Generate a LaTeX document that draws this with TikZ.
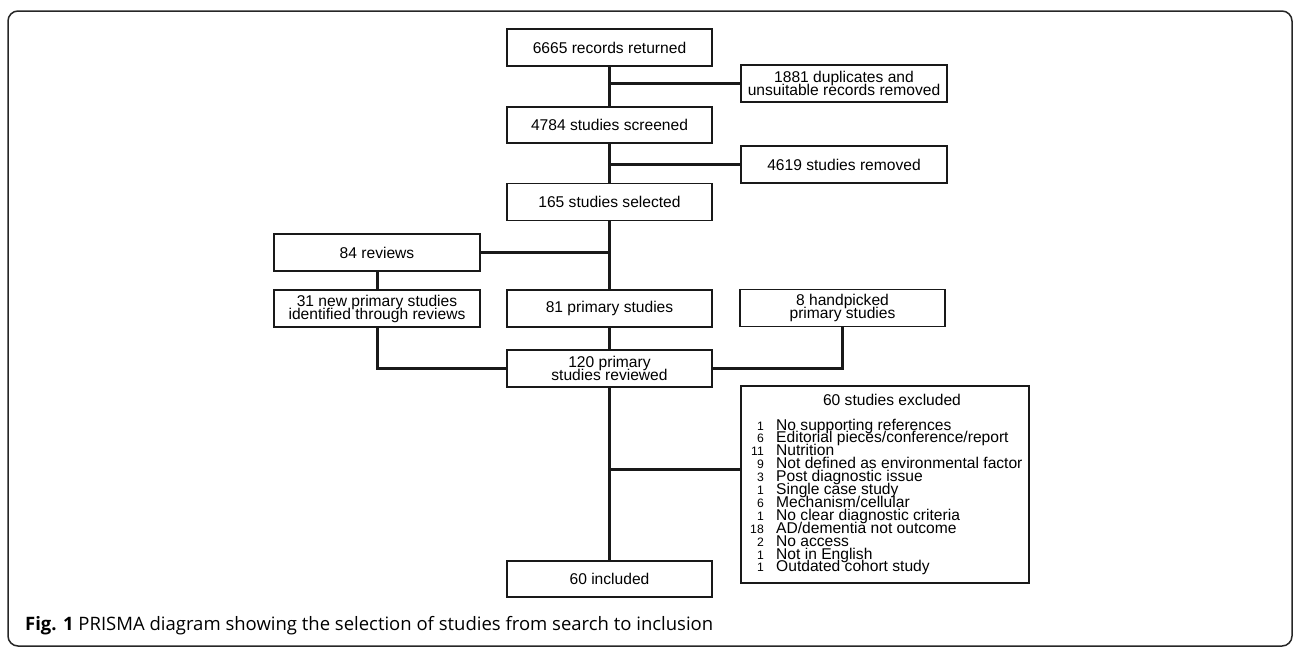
\documentclass[tikz,border=0pt]{standalone}
\usepackage{fontspec}
\setmainfont{Liberation Sans}
\newfontfamily\capfont{Open Sans}
\newcommand\boxfont{\fontsize{15.6}{13}\selectfont\lineskiplimit=-50pt\relax}
\newcommand\numfont{\fontsize{12.2}{13}\selectfont}
\newcommand\captionfont{\capfont\fontsize{18.5}{22}\selectfont}
\begin{document}
\begin{tikzpicture}[x=1pt,y=-1pt,
  box/.style={draw=black!90, line width=1.8pt, minimum width=205pt, minimum height=37pt,
              inner sep=0pt, align=center, font=\boxfont},
  conn/.style={draw=black!90, line width=3pt},
  lbl/.style={inner sep=0pt, font=\boxfont},
  numlbl/.style={inner sep=0pt, font=\numfont, anchor=base east},
  itemlbl/.style={inner sep=0pt, font=\boxfont, anchor=base west},
  frame/.style={draw=black!85, line width=1.5pt, rounded corners=10pt}]
\useasboundingbox (0,0) rectangle (1296,649);
\draw[frame] (8,11) rectangle (1292,646);

% boxes
\node[box] (b1) at (609.5,47.5) {6665 records returned};
\node[box, minimum width=206pt] (b2) at (844,83.5) {1881 duplicates and\\unsuitable records removed};
\node[box, minimum height=36pt] (b3) at (609.5,125) {4784 studies screened};
\node[box, minimum width=206pt] (b4) at (844,164.5) {4619 studies removed};
\node[box] (b5) at (609.5,202) {165 studies selected};
\node[box, minimum width=206pt] (b6) at (377,252.5) {84 reviews};
\node[box, minimum width=206pt] (b7) at (377,308.5) {31 new primary studies\\identified through reviews};
\node[box] (b8) at (609.5,308.5) {81 primary studies};
\node[box] (b9) at (842.5,308) {8 handpicked\\primary studies};
\node[box] (b10) at (609.5,368.5) {120 primary\\studies reviewed};
\node[box, minimum width=288pt, minimum height=197pt] (exc) at (885,484.5) {};
\node[box, minimum height=36pt] (b12) at (609.5,579) {60 included};

% excluded box contents
\node[lbl] (exct) at (892,400) {60 studies excluded};
\foreach \n/\t [count=\i from 0] in {1/{No supporting references},
  6/{Editorial pieces/conference/report}, 11/{Nutrition},
  9/{Not defined as environmental factor}, 3/{Post diagnostic issue},
  1/{Single case study}, 6/{Mechanism/cellular}, 1/{No clear diagnostic criteria},
  18/{AD/dementia not outcome}, 2/{No access}, 1/{Not in English},
  1/{Outdated cohort study}}{
  \node[numlbl] (exn\i) at (764,430+12.9*\i) {\n};
  \node[itemlbl] (ext\i) at (776,430+12.9*\i) {\t};
}

% connectors
\draw[conn] (b1.south) -- (b3.north);
\draw[conn] (b1.south |- b2.west) -- (b2.west);
\draw[conn] (b3.south) -- (b5.north);
\draw[conn] (b3.south |- b4.west) -- (b4.west);
\draw[conn] (b5.south) -- (b8.north);
\draw[conn] (b6.east) -- (b6.east -| b5.south);
\draw[conn] (b6.south) -- (b7.north);
\draw[conn] (b7.south) |- (b10.west);
\draw[conn] (b9.south) |- (b10.east);
\draw[conn] (b8.south) -- (b10.north);
\draw[conn] (b10.south) -- (b12.north);
\coordinate (br) at (609.5,469);
\draw[conn] (br) -- (br -| exc.west);

% caption
\node[anchor=base west, inner sep=0pt, font=\captionfont] (cap) at (25,630)
  {\textbf{Fig. 1} PRISMA diagram showing the selection of studies from search to inclusion};
\end{tikzpicture}
\end{document}
